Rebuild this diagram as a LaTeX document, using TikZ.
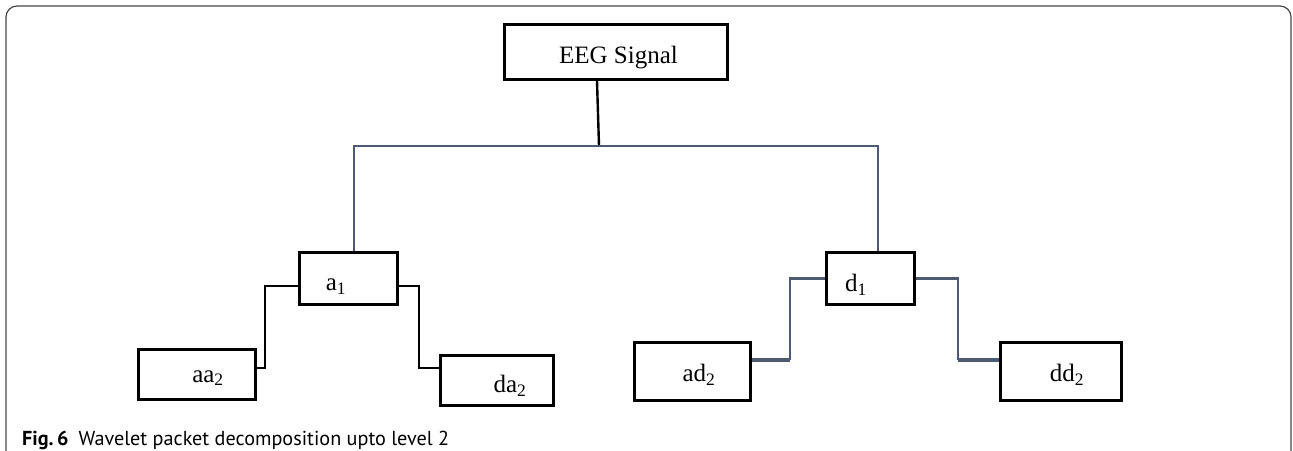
\documentclass[tikz,border=0pt]{standalone}
\usepackage{fontspec}
\setmainfont{Liberation Serif}
\newfontfamily\capfont{PT Sans}
\usetikzlibrary{calc}
\definecolor{slate}{RGB}{78,90,112}
\definecolor{framegray}{RGB}{70,70,70}
\tikzset{
  box/.style={draw=black, line width=2.8pt, inner sep=0pt, font=\fontsize{25}{30}\selectfont},
  lbl/.style={inner sep=0pt, font=\fontsize{25}{30}\selectfont},
  bline/.style={draw=black, line width=2.4pt},
  gline/.style={draw=slate, line width=2.3pt},
  thinline/.style={draw=slate, line width=1.8pt},
}
\begin{document}
\begin{tikzpicture}[x=1pt, y=-1pt]
\useasboundingbox (0,0) rectangle (1293,450);
\clip (0,0) rectangle (1293,450);
% frame
\draw[framegray, line width=1.2pt, rounded corners=11pt] (6,6) rectangle (1291,475);
% boxes
\node[box, minimum width=223pt, minimum height=55pt] (eeg) at (616,52) {};
\node[lbl] (teeg) at ([xshift=2.5pt,yshift=-6pt]eeg.center) {EEG Signal};
\node[box, minimum width=98pt, minimum height=52pt] (a1) at (348.5,278.5) {};
\node[lbl] (ta1) at ([xshift=-12.5pt,yshift=-8pt]a1.center) {a\textsubscript{1}};
\node[box, minimum width=88pt, minimum height=52pt] (d1) at (870.5,278.5) {};
\node[lbl] (td1) at ([xshift=-14.5pt,yshift=-6pt]d1.center) {d\textsubscript{1}};
\node[box, minimum width=117pt, minimum height=50pt] (aa2) at (197,374.5) {};
\node[lbl] (taa2) at ([xshift=11pt,yshift=-3.5pt]aa2.center) {aa\textsubscript{2}};
\node[box, minimum width=113pt, minimum height=50pt] (da2) at (497,380.5) {};
\node[lbl] (tda2) at ([xshift=13pt,yshift=-5.5pt]da2.center) {da\textsubscript{2}};
\node[box, minimum width=116pt, minimum height=58pt] (ad2) at (692.5,371.5) {};
\node[lbl] (tad2) at ([xshift=6.5pt,yshift=-3pt]ad2.center) {ad\textsubscript{2}};
\node[box, minimum width=121pt, minimum height=58pt] (dd2) at (1061,371.5) {};
\node[lbl] (tdd2) at ([xshift=6pt,yshift=-3pt]dd2.center) {dd\textsubscript{2}};
% tree connectors
\coordinate (split) at (599,146);
\draw[bline] ([xshift=-19pt]eeg.south) -- (split);
\draw[thinline] ([xshift=5.5pt]a1.north) |- (split) -| ([xshift=7.5pt]d1.north);
% a1 children
\draw[bline] ([yshift=-7.5pt]a1.west) -| ([xshift=8pt,yshift=6.5pt]aa2.east) -- ([yshift=6.5pt]aa2.east);
\draw[bline] ([yshift=-7.5pt]a1.east) -| ([xshift=-20pt,yshift=12.5pt]da2.west) -- ([yshift=12.5pt]da2.west);
% d1 children
\draw[gline] (d1.west) -| ([xshift=38pt,yshift=11.5pt]ad2.east);
\draw[gline, line width=3.2pt] ([xshift=38pt,yshift=11.5pt]ad2.east) -- ([yshift=11.5pt]ad2.east);
\draw[gline] (d1.east) -| ([xshift=-41pt,yshift=11.5pt]dd2.west);
\draw[gline, line width=3.2pt] ([xshift=-41pt,yshift=11.5pt]dd2.west) -- ([yshift=11.5pt]dd2.west);
% caption
\node[anchor=base west, inner sep=0pt, font=\capfont\fontsize{20.2}{24}\selectfont] (cap) at (22,445) {\textbf{Fig.\,6}\enspace Wavelet packet decomposition upto level 2};
\end{tikzpicture}
\end{document}
